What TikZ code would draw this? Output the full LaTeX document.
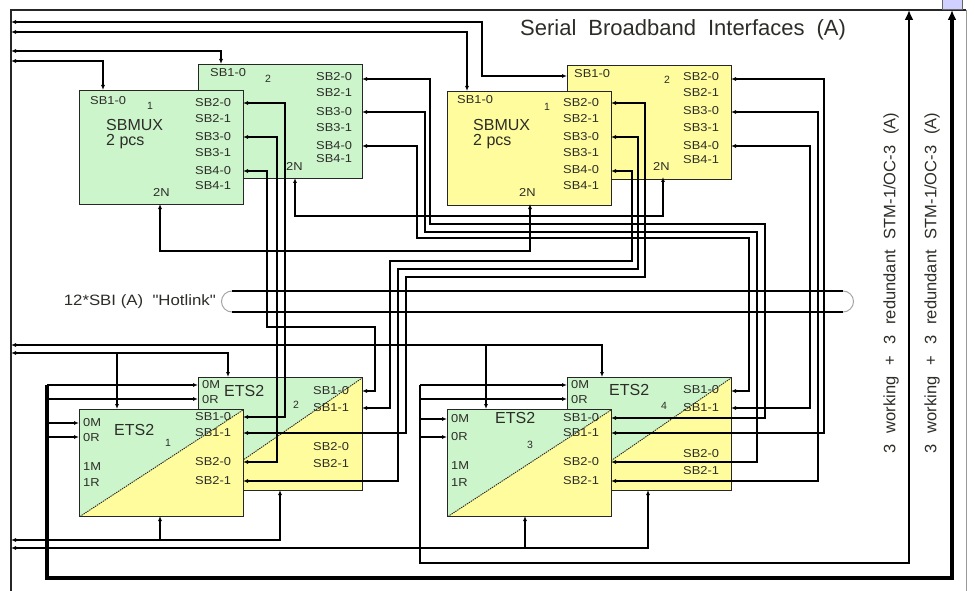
\documentclass[tikz,border=0pt]{standalone}
\usepackage{fontspec}
\setmainfont{Liberation Sans}
\newfontfamily\portfont[FakeStretch=1.12]{Liberation Sans}
\usetikzlibrary{arrows.meta, positioning}

\definecolor{boxgreen}{RGB}{204,245,204}
\definecolor{boxyellow}{RGB}{255,252,158}
\definecolor{inkgray}{RGB}{45,45,40}

\begin{document}
\begin{tikzpicture}[x=1pt, y=-1pt,
  unit/.style={draw=black!85, line width=1.3pt, anchor=north west, inner sep=0pt,
               minimum width=164pt, minimum height=114pt},
  etsunit/.style={unit, fill=boxgreen, path picture={
      \fill[boxyellow] (path picture bounding box.south west) -- (path picture bounding box.north east)
                       -- (path picture bounding box.south east) -- cycle;
      \draw[line width=0.9pt, dash pattern=on 1.4pt off 0.9pt]
           (path picture bounding box.south west) -- (path picture bounding box.north east);}},
  port/.style={anchor=west, inner sep=0pt, text=inkgray, font=\portfont\fontsize{11.5}{12}\selectfont},
  tag/.style={inner sep=0pt, text=inkgray, font=\fontsize{10.5}{11}\selectfont},
  title/.style={anchor=west, inner sep=0pt, text=inkgray, font=\fontsize{16}{17}\selectfont},
  wire/.style={line width=1.3pt, {Latex[length=5pt,width=4pt]}-{Latex[length=5pt,width=4pt]}},
  tap/.style={line width=1.3pt, -{Latex[length=5pt,width=4pt]}},
  trunk/.style={line width=#1, line join=miter, -{Latex[length=10pt,width=9pt]}}
]
\useasboundingbox (0,0) rectangle (975,591);

% frame
\draw[line width=1.2pt, black!85] (11,591) -- (11,10) -- (966,10);
\draw[line width=0.8pt, black!40] (966,10) -- (966,591);
\draw[line width=0.8pt, black!60, fill=blue!18] (942,-1) rectangle (962,9);
\node[anchor=west, inner sep=0pt, text=inkgray,
      font={\fontsize{22}{24}\selectfont\spaceskip=12pt}] (head) at (520,30) {Serial Broadband Interfaces (A)};

% SBMUX, left pair
\node[unit, fill=boxgreen] (muxl2) at (198,64) {};
\node[port] (l2-in) at (210,73) {SB1-0};
\node[tag] (l2-no) at (268,79) {2};
\foreach \p/\y in {SB2-0/77, SB2-1/93, SB3-0/112, SB3-1/128, SB4-0/146, SB4-1/159}
  \node[port] (l2-\p) at (316,\y) {\p};
\node[port] (l2-2n) at (286,166) {2N};

\node[unit, fill=boxgreen] (muxl1) at (79,90) {};
\node[port] (l1-in) at (90,101) {SB1-0};
\node[tag] (l1-no) at (150,106) {1};
\node[title] (l1-name) at (106,125) {SBMUX};
\node[title] (l1-pcs) at (106,142) {2 pcs};
\foreach \p/\y in {SB2-0/103, SB2-1/119, SB3-0/137, SB3-1/153, SB4-0/171, SB4-1/186}
  \node[port] (l1-\p) at (195,\y) {\p};
\node[port] (l1-2n) at (153,192) {2N};

% SBMUX, right pair
\node[unit, fill=boxyellow] (muxr2) at (567,65) {};
\node[port] (r2-in) at (574,74) {SB1-0};
\node[tag] (r2-no) at (667,80) {2};
\foreach \p/\y in {SB2-0/77, SB2-1/93, SB3-0/111, SB3-1/128, SB4-0/146, SB4-1/160}
  \node[port] (r2-\p) at (683,\y) {\p};
\node[port] (r2-2n) at (653,166) {2N};

\node[unit, fill=boxyellow] (muxr1) at (447,91) {};
\node[port] (r1-in) at (457,100) {SB1-0};
\node[tag] (r1-no) at (547,107) {1};
\node[title] (r1-name) at (473,125) {SBMUX};
\node[title] (r1-pcs) at (473,142) {2 pcs};
\foreach \p/\y in {SB2-0/103, SB2-1/119, SB3-0/137, SB3-1/153, SB4-0/170, SB4-1/186}
  \node[port] (r1-\p) at (563,\y) {\p};
\node[port] (r1-2n) at (519,192) {2N};

% ETS2, left pair
\node[etsunit, minimum height=113pt] (ets2) at (198,377) {};
\node[port] (e2-0m) at (202,385) {0M};
\node[port] (e2-0r) at (202,400) {0R};
\node[title] (e2-name) at (224,391) {ETS2};
\node[tag] (e2-no) at (296,405) {2};
\foreach \p/\y in {SB1-0/391, SB1-1/408, SB2-0/447, SB2-1/464}
  \node[port] (e2-\p) at (313,\y) {\p};

\node[etsunit, minimum height=107pt] (ets1) at (79,409) {};
\node[port] (e1-0m) at (83,423) {0M};
\node[port] (e1-0r) at (83,438) {0R};
\node[port] (e1-1m) at (83,467) {1M};
\node[port] (e1-1r) at (83,483) {1R};
\node[title] (e1-name) at (114,430) {ETS2};
\node[tag] (e1-no) at (168,443) {1};
\foreach \p/\y in {SB1-0/417, SB1-1/433, SB2-0/462, SB2-1/481}
  \node[port] (e1-\p) at (195,\y) {\p};

% ETS2, right pair
\node[etsunit, minimum height=113pt] (ets4) at (567,377) {};
\node[port] (e4-0m) at (571,385) {0M};
\node[port] (e4-0r) at (571,400) {0R};
\node[title] (e4-name) at (609,390) {ETS2};
\node[tag] (e4-no) at (664,406) {4};
\foreach \p/\y in {SB1-0/390, SB1-1/408, SB2-0/454, SB2-1/471}
  \node[port] (e4-\p) at (683,\y) {\p};

\node[etsunit, minimum height=107pt] (ets3) at (447,409) {};
\node[port] (e3-0m) at (451,419) {0M};
\node[port] (e3-0r) at (451,437) {0R};
\node[port] (e3-1m) at (451,466) {1M};
\node[port] (e3-1r) at (451,483) {1R};
\node[title] (e3-name) at (495,418) {ETS2};
\node[tag] (e3-no) at (530,445) {3};
\foreach \p/\y in {SB1-0/418, SB1-1/433, SB2-0/462, SB2-1/481}
  \node[port] (e3-\p) at (563,\y) {\p};

% port points
\coordinate (la20) at (243,103); \coordinate (la30) at (243,137); \coordinate (la40) at (243,171);
\coordinate (la2n) at (160,204); \coordinate (latop) at (103,90);
\coordinate (lb20) at (362,79);  \coordinate (lb30) at (362,112); \coordinate (lb40) at (362,146);
\coordinate (lb2n) at (295,178); \coordinate (lbtop) at (221,64);
\coordinate (ra20) at (611,103); \coordinate (ra30) at (611,137); \coordinate (ra40) at (611,171);
\coordinate (ra2n) at (530,204); \coordinate (ratop) at (467,91);
\coordinate (rb20) at (731,79);  \coordinate (rb30) at (731,112); \coordinate (rb40) at (731,146);
\coordinate (rb2n) at (663,177); \coordinate (rbin) at (567,76);
\coordinate (ea10) at (243,417); \coordinate (ea11) at (243,433); \coordinate (ea20) at (243,462);
\coordinate (ea21) at (243,481); \coordinate (eatop) at (117,409); \coordinate (eabot) at (160,516);
\coordinate (ea0m) at (79,423);  \coordinate (ea0r) at (79,437);
\coordinate (eb10) at (362,391); \coordinate (eb11) at (362,408);
\coordinate (ebtop) at (228,377); \coordinate (ebbot) at (280,490);
\coordinate (eb0m) at (198,385); \coordinate (eb0r) at (198,399);
\coordinate (ec10) at (611,418); \coordinate (ec11) at (611,433); \coordinate (ec20) at (611,462);
\coordinate (ec21) at (611,481); \coordinate (ectop) at (486,409); \coordinate (ecbot) at (525,516);
\coordinate (ec0m) at (447,419); \coordinate (ec0r) at (447,437);
\coordinate (ed10) at (731,391); \coordinate (ed11) at (731,408);
\coordinate (edtop) at (602,377); \coordinate (edbot) at (648,490);
\coordinate (ed0m) at (567,385); \coordinate (ed0r) at (567,399);

% taps on the left frame
\foreach \y in {22,32,51,61,345,353,540,548}
  \coordinate (f\y) at (11,\y);

% hotlink bundle
\draw[black!35, line width=1pt, rounded corners=10.5pt] (221.5,291) rectangle (853.5,312);
\draw[line width=1.1pt] (232,291) -- (843,291) (232,312) -- (843,312);
\node[anchor=east, inner sep=0pt, text=inkgray, font={\portfont\fontsize{15}{16}\selectfont}]
  (hot) at (216,302) {12*SBI (A)\ \ "Hotlink"};

% buses from the frame
\draw[wire] (f22) -| (482,76) -- (rbin);
\draw[wire] (f32) -| (ratop);
\draw[wire] (f51) -| (lbtop);
\draw[wire] (f61) -| (latop);
\draw[wire] (f345) -| (edtop);
\draw[tap] (ectop |- f345) -- (ectop);
\draw[wire] (f353) -| (ebtop);
\draw[tap] (eatop |- f353) -- (eatop);
\draw[wire] (f540) -| (ebbot);
\draw[tap] (eabot |- f540) -- (eabot);
\draw[wire] (f548) -| (edbot);
\draw[tap] (ecbot |- f548) -- (ecbot);

% 2N links
\draw[wire] (la2n) -- ++(0,47) -| (ra2n);
\draw[wire] (lb2n) -- ++(0,38) -| (rb2n);

% SBMUX to ETS2
\draw[wire] (la20) -| (285,417) -- (ea10);
\draw[wire] (la30) -| (277,462) -- (ea20);
\draw[wire] (la40) -| (267,327) -| (375,391) -- (eb10);
\draw[wire] (lb20) -| (430,224) -| (765,418) -- (ec10);
\draw[wire] (lb30) -| (425,232) -| (757,462) -- (ec20);
\draw[wire] (lb40) -| (417,238) -| (749,391) -- (ed10);
\draw[wire] (ra20) -| (645,277) -| (406,433) -- (ea11);
\draw[wire] (ra30) -| (638,269) -| (398,481) -- (ea21);
\draw[wire] (ra40) -| (632,261) -| (390,408) -- (eb11);
\draw[wire] (rb20) -| (824,433) -- (ec11);
\draw[wire] (rb30) -| (818,481) -- (ec21);
\draw[wire] (rb40) -| (810,408) -- (ed11);

% STM-1 trunks
\coordinate (stmi) at (909,10);
\coordinate (stmo) at (952,10);
\coordinate (ko) at (47,385);
\coordinate (ki) at (420,385);
\draw[trunk=3.6pt] (ko) -- (47,578) -- (952,578) -- (stmo);
\draw[trunk=2.8pt] (ki) -- (420,563) -- (909,563) -- (stmi);
\draw[tap, line width=2pt] (ko) -- (eb0m);
\draw[tap] (ko |- eb0r) -- (eb0r);
\draw[tap] (ko |- ea0m) -- (ea0m);
\draw[tap] (ko |- ea0r) -- (ea0r);
\draw[tap, line width=1.8pt] (ki) -- (ed0m);
\draw[tap] (ki |- ed0r) -- (ed0r);
\draw[tap] (ki |- ec0m) -- (ec0m);
\draw[tap] (ki |- ec0r) -- (ec0r);
\node[rotate=90, inner sep=0pt, text=inkgray, font={\fontsize{16.5}{17}\selectfont\spaceskip=11pt}]
  (stmlabi) at (891,283) {3 working + 3 redundant STM-1/OC-3 (A)};
\node[rotate=90, inner sep=0pt, text=inkgray, font={\fontsize{16.5}{17}\selectfont\spaceskip=11pt}]
  (stmlabo) at (932,283) {3 working + 3 redundant STM-1/OC-3 (A)};
\end{tikzpicture}
\end{document}
